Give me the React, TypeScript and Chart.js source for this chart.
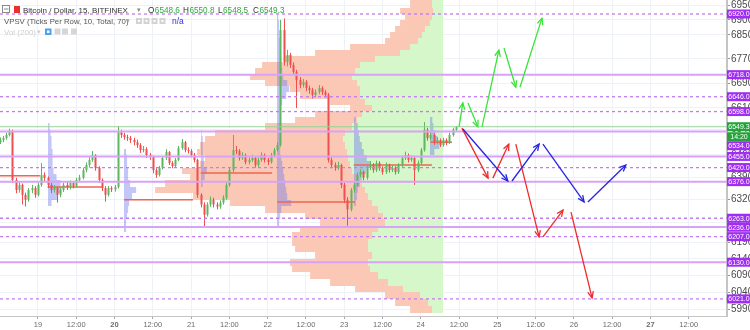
import React, { useEffect, useRef } from "react";
import { Chart, registerables } from "chart.js";
Chart.register(...registerables);

// ---------- data ----------
// x values are hours measured from day "19" 00:00
const X_MIN = -11.9;
const X_MAX = 216;
const Y_MIN = 5971;
const Y_MAX = 6967.5;

const xTickHours = [0, 12, 24, 36, 48, 60, 72, 84, 96, 108, 120, 132, 144, 156, 168, 180, 192, 204];
const firstDay = 19;
const boldDays = [20, 27];
const yTickValues = [5990, 6040, 6090, 6140, 6190, 6250, 6320, 6390, 6460, 6540, 6610, 6690, 6770, 6850, 6900, 6950];

// hourly candles starting at hour -12
const candleStartHour = -12;
const firstOpen = 6500;
const closes = [
  6507, 6513, 6523, 6536, 6381, 6350, 6366, 6335, 6320, 6350, 6356, 6335,
  6366, 6397, 6388, 6366, 6350, 6356, 6335, 6350, 6366, 6359, 6372, 6362,
  6381, 6388, 6412, 6428, 6444, 6459, 6419, 6381, 6356, 6335, 6356, 6352,
  6359, 6532, 6523, 6516, 6513, 6507, 6500, 6491, 6475, 6478, 6459, 6453,
  6412, 6397, 6419, 6450, 6469, 6434, 6425, 6444, 6481, 6500, 6475, 6472,
  6459, 6444, 6335, 6305, 6274, 6305, 6320, 6305, 6299, 6311, 6326, 6366,
  6412, 6475, 6472, 6450, 6459, 6437, 6444, 6450, 6428, 6444, 6459, 6444,
  6437, 6459, 6475, 6491, 6866, 6760, 6783, 6750, 6727, 6700, 6684, 6694,
  6674, 6668, 6652, 6661, 6674, 6661, 6652, 6444, 6428, 6419, 6428, 6366,
  6320, 6290, 6350, 6366, 6397, 6406, 6388, 6419, 6428, 6412, 6434, 6419,
  6406, 6428, 6412, 6419, 6406, 6428, 6450, 6459, 6444, 6450, 6412, 6434,
  6475, 6540, 6513, 6523, 6500, 6507, 6491, 6507, 6497, 6523, 6540, 6549.3,
];
const highs = [
  6515, 6520, 6530, 6543, 6540, 6388, 6375, 6370, 6342, 6356, 6366, 6362,
  6372, 6434, 6405, 6392, 6372, 6365, 6360, 6358, 6372, 6375, 6380, 6378,
  6388, 6397, 6420, 6436, 6452, 6472, 6462, 6424, 6386, 6362, 6362, 6362,
  6366, 6552, 6540, 6530, 6524, 6520, 6514, 6508, 6497, 6488, 6484, 6466,
  6458, 6418, 6425, 6456, 6478, 6472, 6440, 6450, 6488, 6510, 6504, 6484,
  6478, 6466, 6448, 6340, 6312, 6312, 6330, 6326, 6312, 6318, 6334, 6372,
  6420, 6523, 6488, 6478, 6468, 6464, 6452, 6460, 6456, 6452, 6468, 6464,
  6450, 6466, 6482, 6500, 6900, 6905, 6800, 6790, 6758, 6734, 6710, 6704,
  6700, 6682, 6675, 6670, 6684, 6680, 6668, 6658, 6452, 6436, 6438, 6432,
  6372, 6328, 6356, 6374, 6404, 6414, 6410, 6426, 6440, 6434, 6442, 6440,
  6424, 6436, 6432, 6428, 6424, 6434, 6458, 6470, 6464, 6458, 6454, 6442,
  6482, 6564, 6546, 6532, 6528, 6516, 6512, 6514, 6512, 6530, 6546, 6552,
];
const lows = [
  6494, 6500, 6508, 6518, 6372, 6340, 6342, 6305, 6299, 6314, 6340, 6326,
  6330, 6360, 6378, 6356, 6340, 6342, 6311, 6328, 6344, 6350, 6352, 6355,
  6358, 6375, 6383, 6405, 6420, 6438, 6410, 6372, 6347, 6314, 6330, 6344,
  6345, 6355, 6514, 6508, 6504, 6498, 6490, 6482, 6466, 6468, 6450, 6444,
  6402, 6388, 6392, 6414, 6444, 6428, 6418, 6420, 6440, 6476, 6468, 6464,
  6452, 6436, 6326, 6296, 6235, 6268, 6298, 6296, 6290, 6292, 6305, 6320,
  6360, 6406, 6462, 6442, 6444, 6430, 6430, 6438, 6420, 6422, 6438, 6436,
  6428, 6432, 6452, 6470, 6486, 6748, 6745, 6740, 6716, 6609, 6674, 6676,
  6664, 6656, 6640, 6644, 6654, 6652, 6644, 6436, 6418, 6410, 6412, 6356,
  6310, 6240, 6284, 6342, 6360, 6390, 6380, 6382, 6412, 6404, 6406, 6410,
  6398, 6400, 6404, 6406, 6398, 6400, 6422, 6444, 6436, 6438, 6366, 6406,
  6428, 6470, 6505, 6506, 6492, 6494, 6485, 6486, 6490, 6494, 6518, 6536,
];

// fixed range volume profile (rows of 20 from 5980 upwards), anchored right at hour 127
const profileAnchorHour = 127;
const profileLow = 5980;
const profileRow = 20;
const profileDownVol = [
  22, 33, 35, 48, 58, 68, 78, 78, 57, 73, 76, 80, 78, 65, 78, 113, 142, 175, 210, 197,
  168, 170, 150, 143, 150, 145, 138, 130, 87, 62, 47, 22, 35, 60, 70, 92, 102, 100, 98, 90,
  85, 60, 33, 32, 30, 30, 27, 33, 22, 22,
];
const profileUpVol = [
  11, 15, 23, 40, 55, 65, 73, 75, 71, 75, 75, 71, 65, 58, 60, 65, 71, 75, 78, 81,
  85, 91, 93, 95, 96, 98, 100, 98, 91, 86, 81, 71, 78, 83, 83, 86, 91, 88, 83, 68,
  43, 33, 25, 21, 18, 13, 11, 10, 11, 11,
];

// session volume profiles (rows of 20), anchored left at session start
const sessionStartHours = [3, 27, 51, 75, 99, 123];
const sessionLowRow = [6300, 6220, 6360, 6240, 6300, 6460];
const sessionVol0 = [4, 10, 14, 13, 9, 6, 5, 5, 5, 4, 4, 3, 2];
const sessionVol1 = [2, 2, 3, 4, 5, 8, 12, 6, 4, 4, 3, 3, 2];
const sessionVol2 = [2, 4, 6, 3, 3, 2, 2, 2, 1];
const sessionVol3 = [2, 3, 4, 14, 10, 9, 8, 7, 6, 5, 4, 3, 3, 3, 3, 3, 3, 3, 3, 5, 9, 12, 10, 6, 5, 4, 4, 3, 3, 3, 2, 2, 2, 1];
const sessionVol4 = [2, 3, 4, 6, 8, 12, 17, 13, 10, 8, 6, 5, 4, 2];
const sessionVol5 = [4, 9, 7, 5, 3, 2];

// session POC lines
const pocStartHours = [-12, 3, 27, 51, 75, 99, 123];
const pocEndHours = [0.6, 20.4, 48.6, 73.4, 99.4, 123.5, 129.8];
const pocPrices = [6394, 6359, 6320, 6403, 6313, 6428, 6500];

// horizontal levels
const solidLevels = [6718, 6534, 6455, 6376, 6236, 6130];
const dashedLevels = [6920, 6646, 6598, 6420, 6263, 6207, 6021];
const lastPrice = 6549.3;
const countdownText = "14:20";

// projection arrows: [hour0, price0, hour1, price1]
const greenLegs = [
  [132.0, 6549, 133.2, 6626],
  [134.8, 6626, 137.9, 6549],
  [139.2, 6549, 144.5, 6799],
  [146.1, 6806, 149.8, 6677],
  [151.1, 6677, 158.0, 6906],
];
const blueLegs = [
  [133.2, 6542, 147.3, 6378],
  [148.6, 6378, 157.1, 6494],
  [158.3, 6494, 171.2, 6313],
  [172.4, 6313, 184.3, 6428],
];
const redLegs = [
  [132.9, 6545, 141.1, 6387],
  [142.6, 6387, 147.6, 6494],
  [149.8, 6494, 157.1, 6206],
  [158.3, 6206, 164.6, 6288],
  [167.1, 6282, 173.7, 6024],
];

const headerTitle = "Bitcoin / Dollar, 15, BITFINEX";
const ohlcLabels = ["O", "H", "L", "C"];
const ohlcValues = ["6548.6", "6550.8", "6548.5", "6549.3"];
const vpsvTitle = "VPSV (Ticks Per Row, 10, Total, 70)";
const volTitle = "Vol (200)";

// ---------- styles ----------
const FONT = '"Liberation Sans", Arial, sans-serif';
const UP = "#5cb85c";
const DOWN = "#ef4f4f";
const SALMON = "#fac8b4";
const GREENVOL = "#d5f7c9";
const BLUEVOL = "rgba(110,120,238,0.42)";
const POC = "#ee6656";
const SOLID_LVL = "#d7a2f7";
const DASH_LVL = "#c27cf0";
const LABEL_BG = "#9f2ef2";
const LAST_BG = "#24a33a";
const HOURS_PER_UNIT = 1 / 3.19;

const sessionVols = [sessionVol0, sessionVol1, sessionVol2, sessionVol3, sessionVol4, sessionVol5];

const drawPlugin = {
  id: "tvDraw",
  beforeDatasetsDraw(chart: any) {
    const { ctx, chartArea: a } = chart;
    const xs = chart.scales.x;
    const ys = chart.scales.y;
    ctx.save();
    ctx.beginPath();
    ctx.rect(a.left, a.top, a.right - a.left, a.bottom - a.top);
    ctx.clip();

    // fixed range profile
    const xr = xs.getPixelForValue(profileAnchorHour);
    profileDownVol.forEach((d: number, i: number) => {
      const pLo = profileLow + i * profileRow;
      const yTop = Math.round(ys.getPixelForValue(pLo + profileRow));
      const yBot = Math.round(ys.getPixelForValue(pLo));
      const up = profileUpVol[i];
      const xg = xs.getPixelForValue(profileAnchorHour - up * HOURS_PER_UNIT);
      const xl = xs.getPixelForValue(profileAnchorHour - (up + d) * HOURS_PER_UNIT);
      ctx.fillStyle = SALMON;
      ctx.fillRect(xl, yTop, xg - xl, yBot - yTop);
      ctx.fillStyle = GREENVOL;
      ctx.fillRect(xg, yTop, xr - xg, yBot - yTop);
    });

    // session profiles
    ctx.fillStyle = BLUEVOL;
    sessionVols.forEach((vols: number[], s: number) => {
      const start = sessionStartHours[s];
      const x0 = Math.round(xs.getPixelForValue(start));
      vols.forEach((v: number, i: number) => {
        const pLo = sessionLowRow[s] + i * profileRow;
        const yTop = Math.round(ys.getPixelForValue(pLo + profileRow));
        const yBot = Math.round(ys.getPixelForValue(pLo));
        const x1 = xs.getPixelForValue(start + v * HOURS_PER_UNIT);
        ctx.fillRect(x0, yTop, x1 - x0, yBot - yTop);
      });
    });

    // POC lines
    ctx.strokeStyle = POC;
    ctx.lineWidth = 1.5;
    pocPrices.forEach((p: number, i: number) => {
      const yy = ys.getPixelForValue(p);
      ctx.beginPath();
      ctx.moveTo(xs.getPixelForValue(pocStartHours[i]), yy);
      ctx.lineTo(xs.getPixelForValue(pocEndHours[i]), yy);
      ctx.stroke();
    });

    // candles
    closes.forEach((c: number, i: number) => {
      const o = i === 0 ? firstOpen : closes[i - 1];
      const px = Math.round(xs.getPixelForValue(candleStartHour + i)) + 0.5;
      const col = c >= o ? UP : DOWN;
      ctx.strokeStyle = col;
      ctx.lineWidth = 1;
      ctx.beginPath();
      ctx.moveTo(px, ys.getPixelForValue(highs[i]));
      ctx.lineTo(px, ys.getPixelForValue(lows[i]));
      ctx.stroke();
      const yo = ys.getPixelForValue(o);
      const yc = ys.getPixelForValue(c);
      ctx.fillStyle = col;
      ctx.fillRect(px - 1, Math.min(yo, yc), 2, Math.max(1, Math.abs(yc - yo)));
    });
    ctx.restore();
  },
  afterDatasetsDraw(chart: any) {
    const { ctx, chartArea: a } = chart;
    const xs = chart.scales.x;
    const ys = chart.scales.y;
    ctx.save();
    ctx.beginPath();
    ctx.rect(a.left, a.top, a.right - a.left, a.bottom - a.top);
    ctx.clip();
    const head = (legs: number[][], color: string) => {
      ctx.strokeStyle = color;
      ctx.lineWidth = 1.3;
      legs.forEach((l) => {
        const x0 = xs.getPixelForValue(l[0]);
        const y0 = ys.getPixelForValue(l[1]);
        const x1 = xs.getPixelForValue(l[2]);
        const y1 = ys.getPixelForValue(l[3]);
        const ang = Math.atan2(y1 - y0, x1 - x0);
        const L = 7;
        const A = 0.42;
        ctx.beginPath();
        ctx.moveTo(x1 - L * Math.cos(ang - A), y1 - L * Math.sin(ang - A));
        ctx.lineTo(x1, y1);
        ctx.lineTo(x1 - L * Math.cos(ang + A), y1 - L * Math.sin(ang + A));
        ctx.stroke();
      });
    };
    head(greenLegs, "#3be33b");
    head(blueLegs, "#2424e6");
    head(redLegs, "#ee2b2b");
    ctx.restore();
  },
  afterDraw(chart: any) {
    const { ctx, chartArea: a } = chart;
    const ys = chart.scales.y;
    ctx.save();
    // right price labels
    type Lab = { y: number; text: string; bg: string; last?: boolean };
    const labs: Lab[] = [];
    solidLevels.forEach((p) => labs.push({ y: ys.getPixelForValue(p), text: p.toFixed(1), bg: LABEL_BG }));
    dashedLevels.forEach((p) => labs.push({ y: ys.getPixelForValue(p), text: p.toFixed(1), bg: LABEL_BG }));
    labs.push({ y: ys.getPixelForValue(lastPrice), text: lastPrice.toFixed(1), bg: LAST_BG, last: true });
    labs.sort((p, q) => p.y - q.y);
    const H = 9;
    let prevBottom = -1000;
    ctx.font = `7px ${FONT}`;
    ctx.textAlign = "center";
    ctx.textBaseline = "middle";
    const box = (cy: number, text: string, bg: string) => {
      ctx.fillStyle = bg;
      ctx.fillRect(a.right, cy - H / 2, 750 - a.right, H);
      ctx.fillStyle = "#ffffff";
      ctx.fillText(text, a.right + (750 - a.right) / 2 + 0.5, cy + 0.5);
    };
    labs.forEach((l) => {
      const cy = Math.max(l.y, prevBottom + H / 2);
      box(cy, l.text, l.bg);
      prevBottom = cy + H / 2;
      if (l.last) {
        const cy2 = cy + H + 1;
        box(cy2, countdownText, LAST_BG);
        prevBottom = cy2 + H / 2;
      }
    });

    // header
    ctx.textAlign = "left";
    ctx.textBaseline = "alphabetic";
    ctx.strokeStyle = "#8a8a8a";
    ctx.lineWidth = 1;
    ctx.strokeRect(2.5, 5.5, 7, 7);
    ctx.beginPath();
    ctx.moveTo(4, 9);
    ctx.lineTo(8.5, 9);
    ctx.stroke();
    ctx.fillStyle = "#e8302e";
    ctx.fillRect(14, 6, 6, 7);
    ctx.font = `8px ${FONT}`;
    ctx.fillStyle = "#333333";
    ctx.fillText(headerTitle, 23, 13);
    ctx.fillStyle = "#888";
    ctx.font = `7px ${FONT}`;
    ctx.fillText("\u25BE", 137, 12);
    ctx.font = `8.2px ${FONT}`;
    const groupX = [148, 183, 218, 253];
    ohlcLabels.forEach((lb, i) => {
      ctx.fillStyle = "#333333";
      ctx.fillText(lb, groupX[i], 13);
      const w = ctx.measureText(lb).width + 0.5;
      ctx.fillStyle = "#2ea83d";
      ctx.fillText(ohlcValues[i], groupX[i] + w, 13);
    });

    ctx.font = `7.8px ${FONT}`;
    ctx.fillStyle = "#555555";
    ctx.fillText(vpsvTitle, 4, 24);
    ctx.fillStyle = "#999";
    ctx.font = `7px ${FONT}`;
    ctx.fillText("\u25BE", 126, 23);
    [136, 143.5, 151.5, 159.5].forEach((bx) => {
      ctx.fillStyle = "#d3d3d3";
      ctx.fillRect(bx, 18, 6, 6);
      ctx.fillStyle = "#ffffff";
      ctx.fillRect(bx + 2, 20, 2, 2);
    });
    ctx.font = `8.5px ${FONT}`;
    ctx.fillStyle = "#2f2fe6";
    ctx.fillText("n/a", 172, 24);

    ctx.font = `8px ${FONT}`;
    ctx.fillStyle = "#cfcfcf";
    ctx.fillText(volTitle, 4, 34.5);
    ctx.font = `7px ${FONT}`;
    ctx.fillText("\u25BE", 37, 33.5);
    ctx.fillStyle = "#4aa3f0";
    ctx.fillRect(45, 28.5, 6.5, 6.5);
    [54.5, 62, 71].forEach((bx) => {
      ctx.fillStyle = "#d6d6d6";
      ctx.fillRect(bx, 28.5, 6, 6);
    });
    ctx.fillStyle = "#ffffff";
    ctx.fillRect(47, 30.5, 2.5, 2.5);
    ctx.restore();
  },
};

function lineDs(data: { x: number; y: number }[], color: string, width: number, dash: number[] = []) {
  return {
    data,
    borderColor: color,
    backgroundColor: color,
    borderWidth: width,
    borderDash: dash,
    pointRadius: 0,
    tension: 0,
    fill: false,
  };
}

export default function App() {
  const ref = useRef<HTMLCanvasElement | null>(null);
  useEffect(() => {
    if (!ref.current) return;
    const datasets: any[] = [];
    greenLegs.forEach((l) => datasets.push(lineDs([{ x: l[0], y: l[1] }, { x: l[2], y: l[3] }], "#3be33b", 1.3)));
    blueLegs.forEach((l) => datasets.push(lineDs([{ x: l[0], y: l[1] }, { x: l[2], y: l[3] }], "#2424e6", 1.3)));
    redLegs.forEach((l) => datasets.push(lineDs([{ x: l[0], y: l[1] }, { x: l[2], y: l[3] }], "#ee2b2b", 1.3)));
    datasets.push(lineDs([{ x: X_MIN, y: lastPrice }, { x: X_MAX, y: lastPrice }], "#98d398", 1));
    dashedLevels.forEach((p) => datasets.push(lineDs([{ x: X_MIN, y: p }, { x: X_MAX, y: p }], DASH_LVL, 1.3, [3, 3])));
    solidLevels.forEach((p) => datasets.push(lineDs([{ x: X_MIN, y: p }, { x: X_MAX, y: p }], SOLID_LVL, 2)));

    const chart = new Chart(ref.current, {
      type: "line",
      data: { datasets },
      plugins: [drawPlugin as any],
      options: {
        responsive: false,
        maintainAspectRatio: false,
        devicePixelRatio: 1,
        animation: false,
        events: [],
        layout: { padding: 0 },
        plugins: { legend: { display: false }, tooltip: { enabled: false } },
        scales: {
          x: {
            type: "linear",
            min: X_MIN,
            max: X_MAX,
            bounds: "data",
            afterBuildTicks: (s: any) => {
              s.ticks = xTickHours.map((v) => ({ value: v }));
            },
            afterFit: (s: any) => {
              s.height = 14;
              s.paddingLeft = 0;
              s.paddingRight = 0;
            },
            ticks: {
              autoSkip: false,
              maxRotation: 0,
              padding: 1,
              color: "#6a6a6a",
              font: (c: any) => {
                const v = c.tick ? c.tick.value : 1;
                const bold = v % 24 === 0 && boldDays.includes(firstDay + v / 24);
                return { size: 7.5, family: FONT, weight: bold ? "bold" : "normal" };
              },
              callback: (v: any) => (Number(v) % 24 === 0 ? String(firstDay + Number(v) / 24) : "12:00"),
            },
            grid: { color: "#eef1f6", tickLength: 3, tickColor: "#aaaaaa" },
            border: { color: "#c4c4c4", width: 1 },
          },
          y: {
            type: "logarithmic",
            position: "right",
            min: Y_MIN,
            max: Y_MAX,
            bounds: "data",
            afterBuildTicks: (s: any) => {
              s.ticks = yTickValues.map((v) => ({ value: v }));
            },
            afterFit: (s: any) => {
              s.width = 23;
              s.paddingTop = 0;
              s.paddingBottom = 0;
            },
            ticks: {
              autoSkip: false,
              padding: 1,
              color: "#4a4a4a",
              font: { size: 10, family: FONT },
              callback: (v: any) => String(v),
            },
            grid: { color: "#eef1f6", tickLength: 3, tickColor: "#999999" },
            border: { color: "#c4c4c4", width: 2 },
          },
        },
      },
    });
    return () => chart.destroy();
  }, []);
  return (
    <div style={{ position: "fixed", left: 0, top: 0, width: 750, height: 330, background: "#ffffff" }}>
      <canvas ref={ref} width={750} height={330} style={{ display: "block", width: 750, height: 330 }} />
    </div>
  );
}
